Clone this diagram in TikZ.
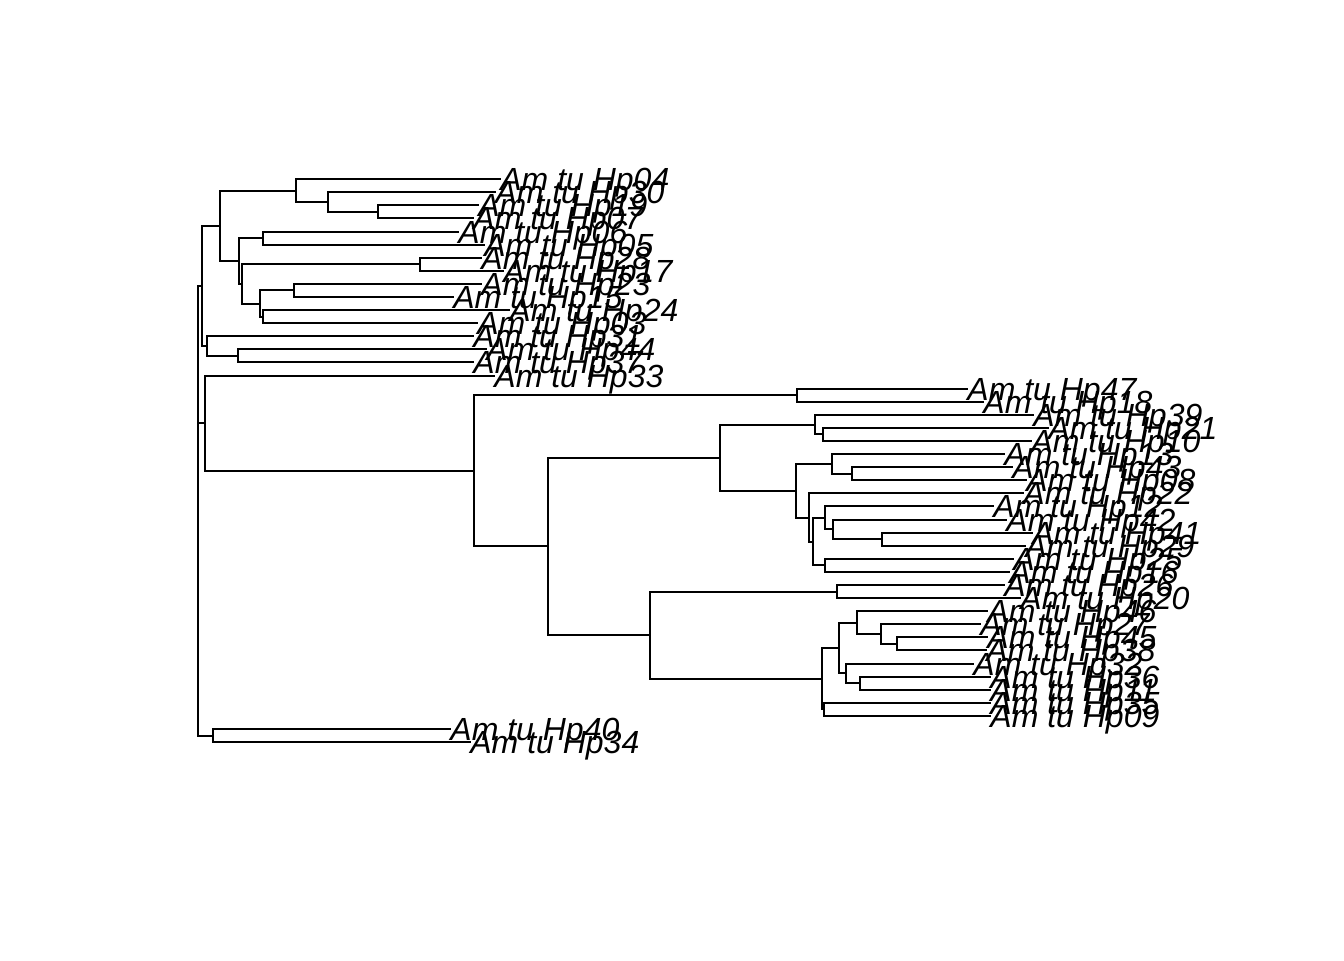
\documentclass[tikz,border=0pt]{standalone}
\usepackage{fontspec}
\setmainfont{Liberation Sans}
\newcommand\mkclade[3]{\draw[br] (#2) -- (#1|-#2) -- (#1|-#3) -- (#3);}
\begin{document}
\begin{tikzpicture}[x=0.5pt,y=-0.5pt,
  br/.style={line width=1pt, line cap=rect, line join=miter},
  lbl/.style={anchor=base west, inner sep=0pt, font=\fontsize{16}{16}\selectfont\itshape}]
\useasboundingbox (0,0) rectangle (1344,960);
% tips
\foreach \i/\x/\n in {0/500/04, 1/495/30, 2/478/19, 3/473/07, 4/458/06, 5/484/05, 6/481/28, 7/503/17,
  8/481/23, 9/453/15, 10/509/24, 11/477/03, 12/473/31, 13/486/44, 14/473/37, 15/494/33,
  16/967/47, 17/983/18, 18/1033/39, 19/1048/21, 20/1031/10, 21/1004/13, 22/1012/43, 23/1026/08,
  24/1023/22, 25/993/12, 26/1006/42, 27/1032/41, 28/1025/29, 29/1013/25, 30/1009/16, 31/1004/26,
  32/1020/20, 33/987/46, 34/980/27, 35/987/45, 36/986/38, 37/973/32, 38/990/36, 39/990/11,
  40/990/35, 41/990/09, 42/450/40, 43/470/34}{
  \coordinate (t\i) at (\x,{179.2+13.09*\i});
  \node[lbl] (l\i) at ([yshift=-5.75pt]t\i) {Am tu Hp\n};
}
% internal nodes
\coordinate (S) at (378.3,211.925);
\coordinate (R) at (328.3,202.11);
\coordinate (P) at (296,190.65);
\coordinate (T) at (263.3,238.105);
\coordinate (V) at (420,264.285);
\coordinate (X) at (294,290.465);
\coordinate (Y) at (263.3,316.645);
\coordinate (W) at (260,303.555);
\coordinate (U) at (242,283.92);
\coordinate (Q) at (239.3,261.01);
\coordinate (A) at (220,225.83);
\coordinate (Z) at (238.3,355.915);
\coordinate (C) at (207.3,346.10);
\coordinate (B) at (202.2,285.965);
\coordinate (G) at (797,395.185);
\coordinate (M) at (823.3,434.455);
\coordinate (K) at (815,424.64);
\coordinate (P2) at (851.7,473.725);
\coordinate (N) at (831.7,463.91);
\coordinate (U2) at (881.7,539.175);
\coordinate (T2) at (833.3,529.36);
\coordinate (R2) at (825,517.905);
\coordinate (S2) at (825,565.355);
\coordinate (Q2) at (813.3,541.63);
\coordinate (O) at (809.3,517.495);
\coordinate (L) at (796,490.70);
\coordinate (I) at (720,457.67);
\coordinate (V2) at (836.7,591.535);
\coordinate (AC) at (897.3,643.895);
\coordinate (AB) at (880.7,634.08);
\coordinate (Z2) at (856.7,622.625);
\coordinate (AD) at (860,683.165);
\coordinate (AA) at (845.7,673.35);
\coordinate (X2) at (839,647.99);
\coordinate (Y2) at (824,709.345);
\coordinate (W2) at (821.5,678.67);
\coordinate (J) at (650,635.10);
\coordinate (H) at (548,546.385);
\coordinate (E) at (474,470.785);
\coordinate (D) at (205,423.17);
\coordinate (F) at (212.7,735.525);
\coordinate (root) at (198.3,423.17);
% clades
\mkclade{S}{t2}{t3}
\mkclade{R}{t1}{S}
\mkclade{P}{t0}{R}
\mkclade{T}{t4}{t5}
\mkclade{V}{t6}{t7}
\mkclade{X}{t8}{t9}
\mkclade{Y}{t10}{t11}
\mkclade{W}{X}{Y}
\mkclade{U}{V}{W}
\mkclade{Q}{T}{U}
\mkclade{A}{P}{Q}
\mkclade{Z}{t13}{t14}
\mkclade{C}{t12}{Z}
\mkclade{B}{A}{C}
\mkclade{G}{t16}{t17}
\mkclade{M}{t19}{t20}
\mkclade{K}{t18}{M}
\mkclade{P2}{t22}{t23}
\mkclade{N}{t21}{P2}
\mkclade{U2}{t27}{t28}
\mkclade{T2}{t26}{U2}
\mkclade{R2}{t25}{T2}
\mkclade{S2}{t29}{t30}
\mkclade{Q2}{R2}{S2}
\mkclade{O}{t24}{Q2}
\mkclade{L}{N}{O}
\mkclade{I}{K}{L}
\mkclade{V2}{t31}{t32}
\mkclade{AC}{t35}{t36}
\mkclade{AB}{t34}{AC}
\mkclade{Z2}{t33}{AB}
\mkclade{AD}{t38}{t39}
\mkclade{AA}{t37}{AD}
\mkclade{X2}{Z2}{AA}
\mkclade{Y2}{t40}{t41}
\mkclade{W2}{X2}{Y2}
\mkclade{J}{V2}{W2}
\mkclade{H}{I}{J}
\mkclade{E}{G}{H}
\mkclade{D}{t15}{E}
\mkclade{F}{t42}{t43}
\mkclade{root}{B}{F}
\draw[br] (root) -- (D);
\end{tikzpicture}
\end{document}
